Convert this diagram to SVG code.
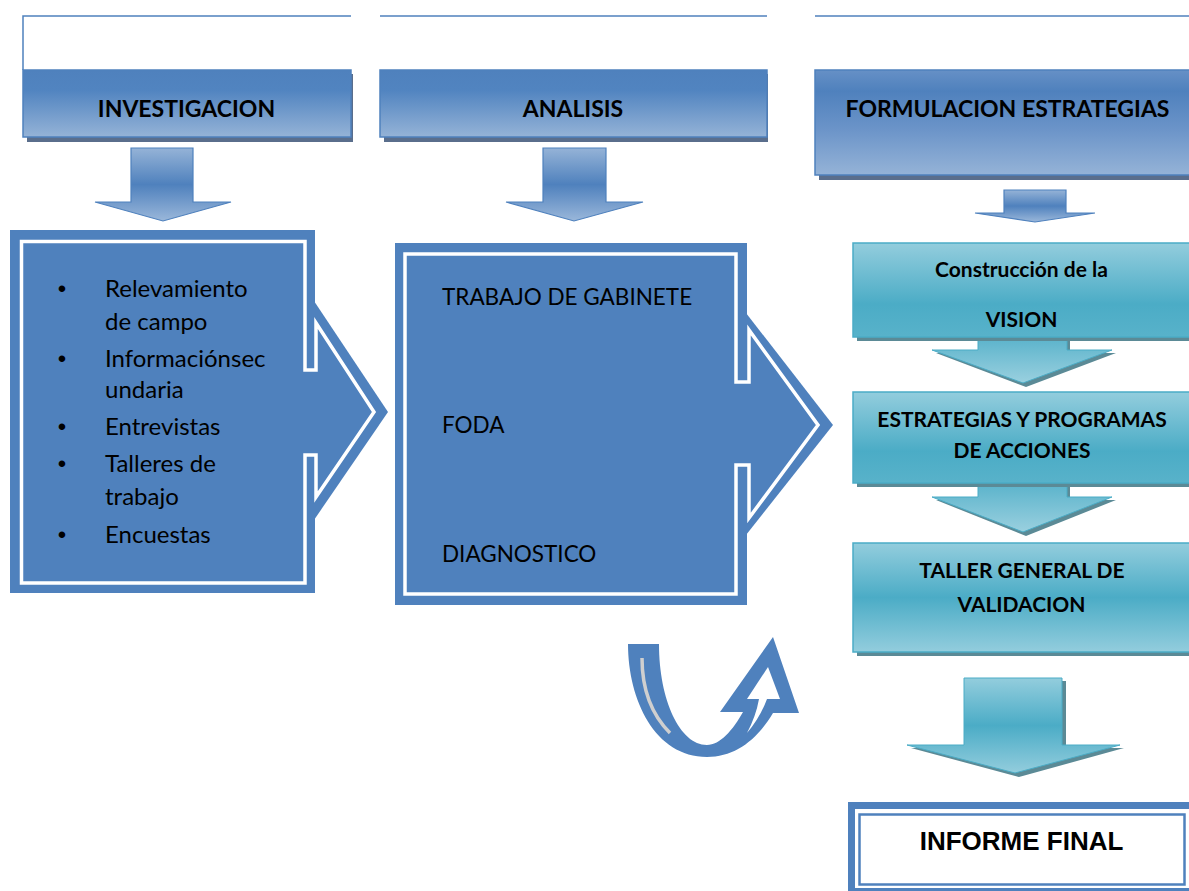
<svg xmlns="http://www.w3.org/2000/svg" width="1189" height="891" viewBox="0 0 1189 891">
<defs>
<linearGradient id="hdr" x1="0" y1="0" x2="0" y2="1">
<stop offset="0" stop-color="#4F81BD"/><stop offset="0.3" stop-color="#5184C0"/><stop offset="1" stop-color="#95B3D7"/>
</linearGradient>
<linearGradient id="hdr3" x1="0" y1="0" x2="0" y2="1">
<stop offset="0" stop-color="#6690C6"/><stop offset="0.2" stop-color="#4F81BD"/><stop offset="0.55" stop-color="#6A93C8"/><stop offset="1" stop-color="#95B3D7"/>
</linearGradient>
<linearGradient id="barr" x1="0" y1="0" x2="0" y2="1">
<stop offset="0" stop-color="#95B3D7"/><stop offset="0.5" stop-color="#4F81BD"/><stop offset="1" stop-color="#9AB7DA"/>
</linearGradient>
<linearGradient id="teal1" x1="0" y1="0" x2="0" y2="1">
<stop offset="0" stop-color="#93CDDD"/><stop offset="0.65" stop-color="#4BACC6"/><stop offset="1" stop-color="#58B2CA"/>
</linearGradient>
<linearGradient id="teal3" x1="0" y1="0" x2="0" y2="1">
<stop offset="0" stop-color="#93CDDD"/><stop offset="0.5" stop-color="#4BACC6"/><stop offset="1" stop-color="#93CDDD"/>
</linearGradient>
<linearGradient id="tarr" x1="0" y1="0" x2="0" y2="1">
<stop offset="0" stop-color="#5AB3CB"/><stop offset="1" stop-color="#9AD0DF"/>
</linearGradient>
</defs>
<style>
.frame{fill:none;stroke:#4F81BD;stroke-width:1.5}
.hdr{stroke:#4F81BD;stroke-width:1.5}
.bshadow{fill:#5A6E8C}
.tshadow{fill:#5B8A96}
.htxt{font-family:Lato,"Liberation Sans",sans-serif;font-weight:bold;font-size:23px;fill:#000;text-anchor:middle}
.ttxt{font-family:Lato,"Liberation Sans",sans-serif;font-weight:bold;font-size:21px;fill:#000;text-anchor:middle}
.btxt{font-family:Lato,"Liberation Sans",sans-serif;font-size:24px;fill:#000}
.mtxt{font-family:Lato,"Liberation Sans",sans-serif;font-size:22.5px;fill:#000}
.bul{font-family:"Liberation Sans",sans-serif;font-size:24px;fill:#000;text-anchor:middle}
.blue{fill:#4F81BD}
.wline{fill:none;stroke:#FFFFFF;stroke-width:3.5}
.barrow{fill:url(#barr);stroke:#4F81BD;stroke-width:1.2}
.tbox{stroke:#4BACC6;stroke-width:1.5}
.tarrow{fill:url(#tarr);stroke:#4BACC6;stroke-width:1}
</style>

<g id="investigacion">
<path class="frame" d="M23,70 V16 H351"/>
<rect class="bshadow" x="27" y="74" width="326" height="68"/>
<rect class="hdr" x="23" y="70" width="328" height="67" fill="url(#hdr)"/>
<text class="htxt" x="186.5" y="117">INVESTIGACION</text>
</g>

<g id="analisis">
<path class="frame" d="M380,16 H767"/>
<rect class="bshadow" x="384" y="74" width="384" height="68"/>
<rect class="hdr" x="380" y="70" width="387" height="67" fill="url(#hdr)"/>
<text class="htxt" x="573" y="117">ANALISIS</text>
</g>

<g id="formulacion">
<path class="frame" d="M815,16 H1189"/>
<rect class="bshadow" x="819" y="74" width="380" height="106"/>
<rect class="hdr" x="815" y="70" width="380" height="105" fill="url(#hdr3)"/>
<text class="htxt" x="1007.5" y="117">FORMULACION ESTRATEGIAS</text>
</g>

<g id="connectors">
<path class="barrow" d="M131,148 H193 V202 H231 L163,221 L95,202 H131 Z"/>
<path class="barrow" d="M543,148 H606 V202 H643 L574,221 L506,202 H543 Z"/>
<path class="barrow" d="M1004,190 H1066 V213 H1095 L1035,222 L975,213 H1004 Z"/>
<path class="tshadow" d="M982,340 H1070 V353 H1116 L1026,387 L936,353 H982 Z"/>
<path class="tarrow" d="M978,337 H1067 V350 H1112 L1023,383 L932,350 H978 Z"/>
<path class="tshadow" d="M982,486 H1070 V500 H1116 L1026,536 L936,500 H982 Z"/>
<path class="tarrow" d="M978,483 H1067 V497 H1112 L1023,532 L932,497 H978 Z"/>
<path d="M968,681 H1066 V748 H1124 L1019,777 L911,748 H968 Z" class="tshadow"/>
<path d="M964,678 H1062 V745 H1120 L1015,773 L907,745 H964 Z" fill="url(#teal3)" stroke="#4BACC6" stroke-width="1"/>
<g id="uturn">
<path class="blue" d="M628,644 C628,700 655,757 707,757 C735,757 757,740 773,713 L799,713 L773,637 L720,712 L743,712 C733,730 720,745 707,745 C680,745 659,700 659,644 Z"/>
<path fill="#FFFFFF" d="M768,667 L747,699 L780,699 Z"/>
<path fill="#FFFFFF" d="M759,699 L767,699 Q760,718 747,733 Q756,716 759,699 Z"/>
<path fill="none" stroke="#CFCFCF" stroke-width="3.5" d="M642,658 C642,690 652,715 670,733"/>
</g>
</g>

<g id="box-investigacion">
<rect class="blue" x="10" y="230" width="305" height="363"/>
<path class="blue" d="M314,301 L388,412 L314,520 Z"/>
<path class="wline" d="M305,370 H316 V323 L374,412 L316,497 V455 H305 V583 H21.5 V241.5 H305 Z"/>
<text class="bul" x="62" y="297">•</text>
<text class="btxt" x="105" y="297">Relevamiento</text>
<text class="btxt" x="105" y="330">de campo</text>
<text class="bul" x="62" y="367">•</text>
<text class="btxt" x="105" y="367">Informaciónsec</text>
<text class="btxt" x="105" y="398">undaria</text>
<text class="bul" x="62" y="435">•</text>
<text class="btxt" x="105" y="435">Entrevistas</text>
<text class="bul" x="62" y="472">•</text>
<text class="btxt" x="105" y="472">Talleres de</text>
<text class="btxt" x="105" y="505">trabajo</text>
<text class="bul" x="62" y="543">•</text>
<text class="btxt" x="105" y="543">Encuestas</text>
</g>

<g id="box-analisis">
<rect class="blue" x="395" y="243" width="352" height="362"/>
<path class="blue" d="M746,313 L833,425 L746,535 Z"/>
<path class="wline" d="M736,382 H749 V330 L818,425 L749,518 V465 H736 V594 H405 V254 H736 Z"/>
<text class="mtxt" x="442" y="305">TRABAJO DE GABINETE</text>
<text class="mtxt" x="442" y="433">FODA</text>
<text class="mtxt" x="442" y="562">DIAGNOSTICO</text>
</g>

<g id="box-vision">
<rect class="tshadow" x="857" y="247" width="340" height="94"/>
<rect class="tbox" x="853" y="243" width="345" height="94" fill="url(#teal1)"/>
<text class="ttxt" x="1021.5" y="277">Construcción de la</text>
<text class="ttxt" x="1021.5" y="327">VISION</text>
</g>

<g id="box-estrategias">
<rect class="tshadow" x="857" y="396" width="340" height="91"/>
<rect class="tbox" x="853" y="392" width="345" height="91" fill="url(#teal1)"/>
<text class="ttxt" x="1022" y="427">ESTRATEGIAS Y PROGRAMAS</text>
<text class="ttxt" x="1022" y="458">DE ACCIONES</text>
</g>

<g id="box-taller">
<rect class="tshadow" x="857" y="547" width="340" height="109"/>
<rect class="tbox" x="853" y="543" width="345" height="109" fill="url(#teal3)"/>
<text class="ttxt" x="1022" y="578">TALLER GENERAL DE</text>
<text class="ttxt" x="1021.5" y="612">VALIDACION</text>
</g>

<g id="box-informe">
<rect class="blue" x="848" y="802" width="350" height="100"/>
<rect fill="#FFFFFF" x="855" y="809" width="340" height="79"/>
<rect fill="none" stroke="#4F81BD" stroke-width="2.5" x="859.5" y="814.5" width="325" height="70"/>
<text x="1021.5" y="850" font-family="'Liberation Sans',Arial,sans-serif" font-weight="bold" font-size="26" text-anchor="middle" fill="#000">INFORME FINAL</text>
</g>
</svg>
